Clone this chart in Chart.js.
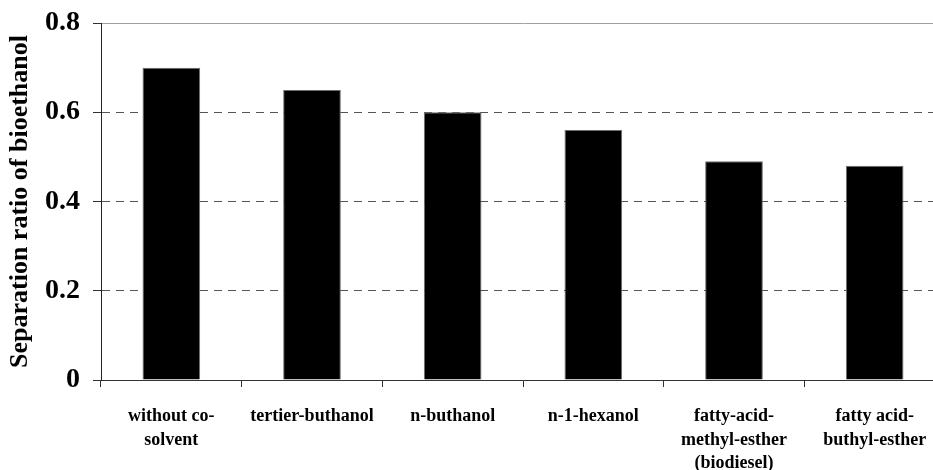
<!DOCTYPE html>
<html>
<head>
<meta charset="utf-8">
<script src="https://cdn.jsdelivr.net/npm/chart.js@4/dist/chart.umd.min.js"></script>
<style>
  html, body { margin: 0; padding: 0; background: #fff; overflow: hidden; width: 933px; height: 470px; }
  #wrap { width: 945px; height: 470px; position: relative; }
</style>
</head>
<body>
<div id="wrap"><canvas id="chart"></canvas></div>
<script>
// Co-solvents tested (multi-line category labels)
const categories = [
  ['without co-', 'solvent'],
  ['tertier-buthanol'],
  ['n-buthanol'],
  ['n-1-hexanol'],
  ['fatty-acid-', 'methyl-esther', '(biodiesel)'],
  ['fatty acid-', 'buthyl-esther']
];
// Separation ratio of bioethanol for each co-solvent
const separationRatio = [0.70, 0.65, 0.60, 0.56, 0.49, 0.48];
const yTicks = [0, 0.2, 0.4, 0.6, 0.8];
const yTitle = 'Separation ratio of bioethanol';

const serif = "'Liberation Serif', 'Times New Roman', serif";

new Chart(document.getElementById('chart'), {
  type: 'bar',
  data: {
    labels: categories,
    datasets: [{
      data: separationRatio,
      backgroundColor: '#000000',
      borderColor: '#6e6e6e',
      borderWidth: 1,
      barPercentage: 0.41,
      categoryPercentage: 1.0
    }]
  },
  options: {
    responsive: true,
    maintainAspectRatio: false,
    devicePixelRatio: 1,
    animation: false,
    layout: { padding: { top: 23, right: 0, bottom: 0, left: 0 } },
    plugins: {
      legend: { display: false },
      tooltip: { enabled: false }
    },
    scales: {
      x: {
        offset: true,
        grid: {
          display: true,
          drawOnChartArea: false,
          drawTicks: true,
          tickLength: 7,
          tickColor: '#333',
          offset: true
        },
        border: { display: true, color: '#333', width: 1 },
        ticks: {
          color: '#000',
          font: { family: serif, size: 18, weight: 'bold', lineHeight: 1.3 },
          padding: 18,
          maxRotation: 0,
          autoSkip: false
        },
        afterFit(scale) { scale.height = 90; }
      },
      y: {
        min: 0,
        max: 0.8,
        afterBuildTicks(scale) { scale.ticks = yTicks.map(v => ({ value: v })); },
        grid: {
          drawTicks: true,
          tickLength: 8,
          tickColor: '#333',
          color(ctx) {
            if (!ctx.tick) return '#555';
            return ctx.tick.value >= 0.8 ? '#a0a0a0' : '#555';
          }
        },
        border: {
          display: true,
          color: '#222',
          width: 1,
          dash(ctx) {
            if (ctx.tick && ctx.tick.value > 0 && ctx.tick.value < 0.8) return [8, 6];
            return [];
          }
        },
        ticks: {
          color: '#000',
          font: { family: serif, size: 28, weight: 'bold' },
          padding: 13,
          callback(value) { return value === 0 ? '0' : Number(value).toFixed(1); }
        },
        title: {
          display: true,
          text: yTitle,
          color: '#000',
          font: { family: serif, size: 26, weight: 'bold', lineHeight: 1.2 },
          padding: { top: 5, bottom: 0 }
        },
        afterFit(scale) {
          scale.width = 101;
          scale.paddingTop = 0;
          scale.paddingBottom = 0;
        }
      }
    }
  }
});
</script>
</body>
</html>
